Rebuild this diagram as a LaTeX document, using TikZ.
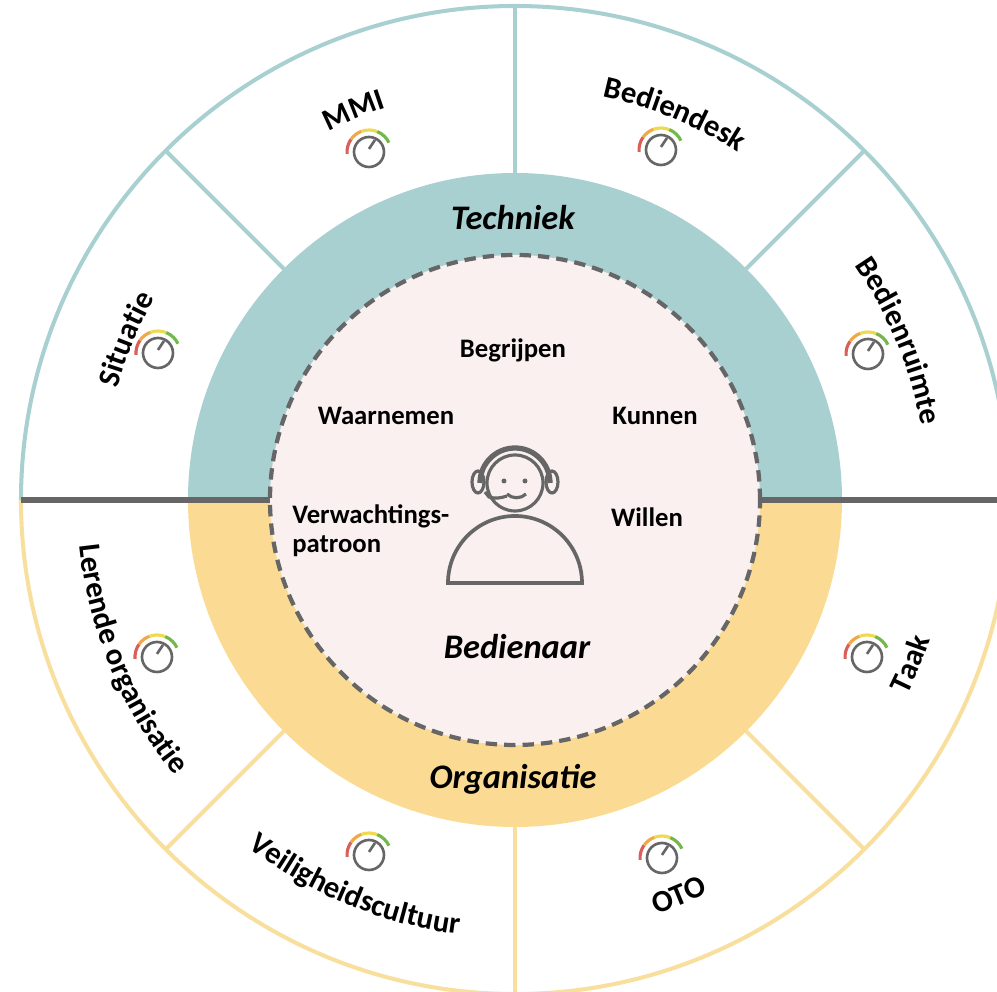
\documentclass[tikz,border=0pt]{standalone}
\usepackage{fontspec}
\setmainfont{Carlito}
\usetikzlibrary{decorations.text}
\definecolor{techblue}{HTML}{A9D0D1}
\definecolor{orgyellow}{HTML}{FBDB93}
\definecolor{orgline}{HTML}{F8DF9D}
\definecolor{oppink}{HTML}{FAF0F0}
\definecolor{darkline}{HTML}{666666}
\definecolor{gaugered}{HTML}{D9605A}
\definecolor{gaugeorange}{HTML}{EFA94A}
\definecolor{gaugeyellow}{HTML}{EFD94E}
\definecolor{gaugegreen}{HTML}{74B84C}
\newcommand{\labelfont}{\fontsize{15.2pt}{16.5pt}\selectfont\bfseries}
\newcommand{\ringfont}{\fontsize{17.5pt}{20pt}\selectfont\bfseries}
\newcommand{\headfont}{\fontsize{19.6pt}{22pt}\selectfont\bfseries\itshape}
\tikzset{
  iconline/.style={draw=darkline,line width=1.8pt},
  gaugearc/.style={line width=1.8pt},
  itemlabel/.style={font=\labelfont,text=black},
  headlabel/.style={font=\headfont,text=black},
  arctext/.style={decorate,decoration={text along path,text align=center,
    text={|\ringfont|#1}}}
}
\begin{document}
\begin{tikzpicture}[scale=0.02]
\useasboundingbox (-515,-492) rectangle (482,500);
\clip (-515,-492) rectangle (482,500);
% outer ring
\draw[techblue,line width=2.3pt] (-494,0) arc[start angle=180,end angle=0,radius=494];
\draw[orgline,line width=2.3pt] (-494,0) arc[start angle=180,end angle=360,radius=494];
\foreach \a in {45,90,135} \draw[techblue,line width=2.3pt] (\a:327) -- (\a:494);
\foreach \a in {225,270,315} \draw[orgline,line width=2.3pt] (\a:327) -- (\a:494);
% middle ring
\fill[techblue] (-327,0) arc[start angle=180,end angle=0,radius=327] -- cycle;
\fill[orgyellow] (-327,0) arc[start angle=180,end angle=360,radius=327] -- cycle;
\draw[darkline,line width=3pt] (-494,0) -- (-245,0);
\draw[darkline,line width=3pt] (245,0) -- (494,0);
% operator circle
\draw[darkline,fill=oppink,line width=2.4pt,dash pattern=on 6.5pt off 4pt] (0,0) circle (245);
% head set
\draw[iconline] (0,17) circle (28);
\draw[iconline,line width=3pt] (-35,17) arc[start angle=180,end angle=0,radius=35];
\draw[iconline] (-37,18) ellipse (6 and 11);
\draw[iconline] (37,18) ellipse (6 and 11);
\draw[iconline] (-30,8) -- (-26,3) .. controls (-20,1) and (-14,2) .. (-8,4);
\draw[iconline] (-8,6) .. controls (-3,1) and (6,1) .. (11,6);
\fill[darkline] (-11,19) circle (2.5);
\fill[darkline] (10,19) circle (2.5);
\draw[iconline,line width=2.1pt] (-67,-83) arc[start angle=180,end angle=0,radius=67] -- cycle;
% gauges
\foreach \x/\y in {-146/348,146/350,353/146,-357/147,-358/-157,-146/-355,147/-358,352/-157}{
  \draw[iconline,line width=1.5pt] (\x,\y) circle (15);
  \draw[iconline,line width=1.5pt] (\x,\y+3) -- ++(6,9);
  \draw[gaugearc,gaugered] (\x,\y) ++(185:22) arc[start angle=185,end angle=145,radius=22];
  \draw[gaugearc,gaugeorange] (\x,\y) ++(145:22) arc[start angle=145,end angle=110,radius=22];
  \draw[gaugearc,gaugeyellow] (\x,\y) ++(110:22) arc[start angle=110,end angle=68,radius=22];
  \draw[gaugearc,gaugegreen] (\x,\y) ++(68:22) arc[start angle=68,end angle=25,radius=22];
}
% texts on the rings
\foreach \a/\t in {157.5/Situatie,112.5/MMI,67.5/Bediendesk,22.5/Bedienruimte}{
  \path[arctext=\t] (\a+22.5:413) arc[start angle=\a+22.5,end angle=\a-22.5,radius=413];
}
\foreach \a/\t in {202.5/Lerende organisatie,247.5/Veiligheidscultuur,292.5/OTO,337.5/Taak}{
  \path[arctext=\t] (\a-22.5:438) arc[start angle=\a-22.5,end angle=\a+22.5,radius=438];
}
\node[headlabel] (techniek) at (-2,282) {Techniek};
\node[headlabel] (organisatie) at (-2,-279) {Organisatie};
\node[headlabel] (bedienaar) at (2,-147) {Bedienaar};
\node[itemlabel] (begrijpen) at (-2,150) {Begrijpen};
\node[itemlabel] (waarnemen) at (-129,84) {Waarnemen};
\node[itemlabel] (kunnen) at (140,84) {Kunnen};
\node[itemlabel] (willen) at (132,-17) {Willen};
\node[itemlabel,align=left,anchor=west,inner sep=0pt] (verwachting) at (-223,-31) {Verwachtings-\\patroon};
\end{tikzpicture}
\end{document}
